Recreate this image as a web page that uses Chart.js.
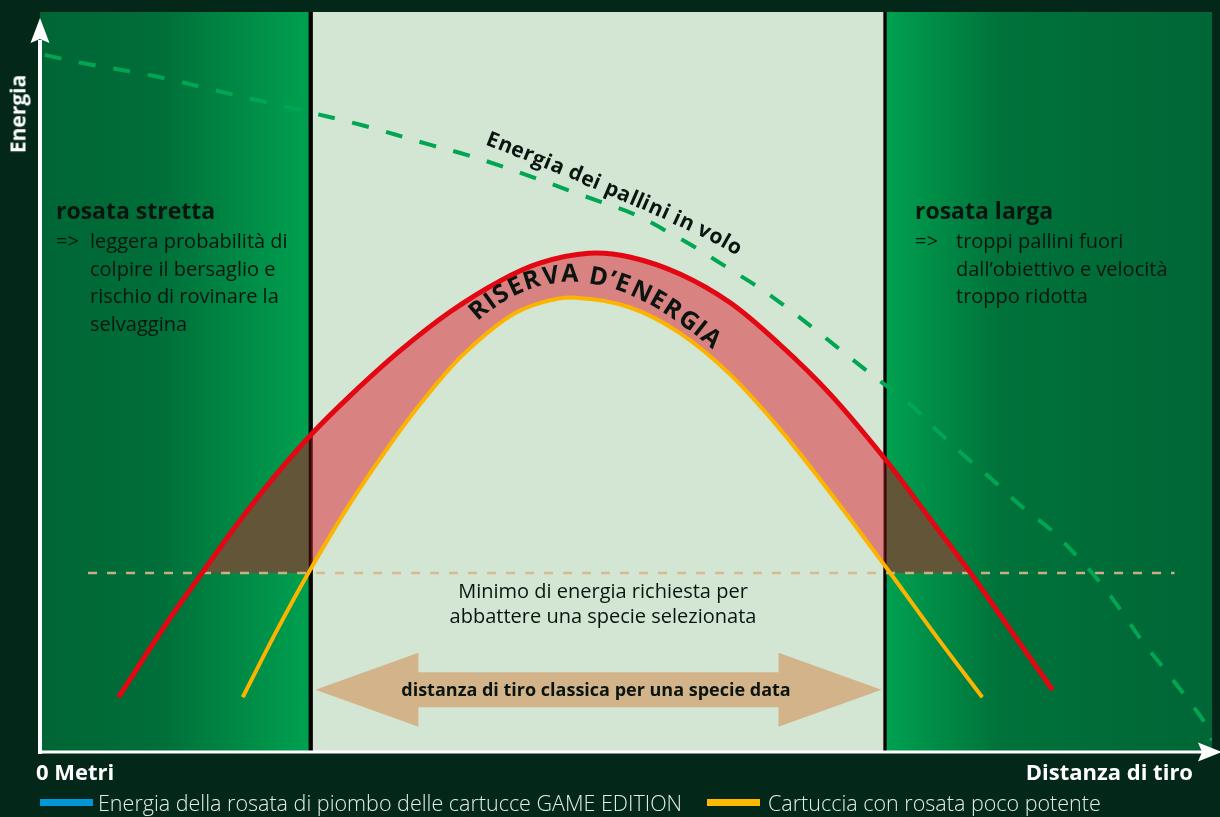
<!DOCTYPE html>
<html>
<head>
<meta charset="utf-8">
<script src="https://cdn.jsdelivr.net/npm/chart.js@4.4.0/dist/chart.umd.min.js"></script>
<style>
html,body{margin:0;padding:0;background:#03281a;}
#wrap{position:relative;width:1220px;height:817px;overflow:hidden;font-family:"Open Sans",sans-serif;}
#c{position:absolute;left:0;top:0;}
.t{position:absolute;white-space:nowrap;line-height:1;}
.sw{position:absolute;}
</style>
</head>
<body>
<div id="wrap">
<canvas id="c" width="1220" height="817"></canvas>
</div>
<script>
// ---------- data (x: relative shooting distance 0-100, y: relative energy 0-100) ----------
const energyX = [0.4, 3.6, 9.6, 15.5, 21.5, 27.5, 33.4, 36.4, 39.3, 42.2, 45.1, 47.9, 50.8, 53.8, 56.1, 58.8, 61.5, 64.1, 66.6, 69.2, 71.7, 74.1, 76.5, 78.9, 81.4, 83.8, 86.2, 88.4, 90.4, 92.2, 94.0, 95.8, 97.7, 99.4, 100];
const energyY = [94.2, 93.1, 91.4, 89.2, 87.0, 84.7, 82.0, 80.7, 79.2, 77.6, 75.9, 74.3, 72.6, 70.1, 68.0, 65.3, 62.6, 59.6, 56.5, 53.2, 50.1, 47.2, 43.5, 40.0, 36.6, 33.1, 30.1, 26.6, 23.0, 19.2, 15.1, 11.5, 7.6, 3.9, 1.6];

const gameX = [6.7, 10.8, 13.7, 16.5, 19.9, 23.2, 26.5, 30.7, 35.0, 39.3, 42.7, 46.8, 50.3, 54.6, 58.9, 63.1, 67.4, 72.1, 75.9, 79.4, 82.8, 86.4];
const gameY = [7.4, 17.4, 23.9, 30.1, 37.0, 43.0, 48.2, 54.2, 59.5, 63.7, 66.1, 67.4, 66.9, 64.6, 60.7, 55.1, 48.4, 39.6, 31.6, 24.2, 16.5, 8.4];

const weakX = [17.3, 20.1, 22.9, 26.5, 30.7, 33.5, 36.1, 39.9, 42.7, 45.7, 50.3, 54.6, 58.9, 63.1, 67.4, 72.4, 76.4, 80.4];
const weakY = [7.4, 16.1, 24.2, 33.7, 43.4, 49.1, 53.7, 58.7, 60.7, 61.4, 60.1, 56.6, 51.0, 43.7, 35.1, 24.5, 15.8, 7.4];

const minEnergyX = [4.1, 96.8];
const minEnergyY = [24.2, 24.2];

const regionSplit = [23.1, 72.1];      // rosata stretta | distanza classica | rosata larga
const classicRangeX = [23.5, 71.8];    // double arrow
const classicRangeY = 8.4;

const legendLabels = ['Energia della rosata di piombo delle cartucce GAME EDITION', 'Cartuccia con rosata poco potente'];
const legendColors = ['#0096d8', '#fbb900'];

// ---------- helpers ----------
const pts = (xs, ys) => xs.map((v, i) => ({x: v, y: ys[i]}));

function bandGradient(chart, inside, outside) {
  const a = chart.chartArea;
  if (!a) return 'rgba(0,0,0,0)';
  const x = chart.scales.x;
  const l = x.getPixelForValue(regionSplit[0]), r = x.getPixelForValue(regionSplit[1]);
  const g = chart.ctx.createLinearGradient(a.left, 0, a.right, 0);
  const w = a.right - a.left;
  const fl = (l - a.left) / w, fr = (r - a.left) / w;
  g.addColorStop(0, outside); g.addColorStop(fl, outside);
  g.addColorStop(fl, inside); g.addColorStop(fr, inside);
  g.addColorStop(fr, outside); g.addColorStop(1, outside);
  return g;
}

const bgPlugin = {
  id: 'bgPlugin',
  beforeDraw(chart) {
    const {ctx, chartArea: a, scales: {x}} = chart;
    const l = x.getPixelForValue(regionSplit[0]), r = x.getPixelForValue(regionSplit[1]);
    const h = a.bottom - a.top;
    ctx.save();
    let g = ctx.createLinearGradient(a.left, 0, l, 0);
    g.addColorStop(0, '#006535'); g.addColorStop(0.45, '#006f39'); g.addColorStop(1, '#00a150');
    ctx.fillStyle = g; ctx.fillRect(a.left, a.top, l - a.left, h);
    ctx.fillStyle = '#d3e6d4'; ctx.fillRect(l, a.top, r - l, h);
    g = ctx.createLinearGradient(r, 0, a.right, 0);
    g.addColorStop(0, '#00a150'); g.addColorStop(0.35, '#00723a'); g.addColorStop(1, '#006636');
    ctx.fillStyle = g; ctx.fillRect(r, a.top, a.right - r, h);
    ctx.fillStyle = '#03281a';
    ctx.fillRect(l - 2, a.top, 4, h);
    ctx.fillRect(r - 1.5, a.top, 3, h);
    ctx.restore();
  },
  beforeDatasetsDraw(chart) {
    const {ctx, chartArea: a, scales: {x, y}} = chart;
    const l = x.getPixelForValue(regionSplit[0]), r = x.getPixelForValue(regionSplit[1]);
    const h = a.bottom - a.top;
    ctx.save();
    ctx.globalCompositeOperation = 'multiply';
    ctx.fillStyle = 'rgb(115,28,28)';
    ctx.fillRect(l - 2, a.top, 4, h);
    ctx.fillRect(r - 1.5, a.top, 3, h);
    ctx.restore();
    // double arrow
    const xl = x.getPixelForValue(classicRangeX[0]), xr = x.getPixelForValue(classicRangeX[1]);
    const yc = y.getPixelForValue(classicRangeY);
    const head = 103, hh = 37, sh = 17.5;
    ctx.save();
    ctx.fillStyle = '#d3b48a';
    ctx.beginPath();
    ctx.moveTo(xl, yc);
    ctx.lineTo(xl + head, yc - hh); ctx.lineTo(xl + head, yc - sh);
    ctx.lineTo(xr - head, yc - sh); ctx.lineTo(xr - head, yc - hh);
    ctx.lineTo(xr, yc);
    ctx.lineTo(xr - head, yc + hh); ctx.lineTo(xr - head, yc + sh);
    ctx.lineTo(xl + head, yc + sh); ctx.lineTo(xl + head, yc + hh);
    ctx.closePath(); ctx.fill();
    ctx.restore();
  },
  afterDraw(chart) {
    const {ctx, chartArea: a} = chart;
    ctx.save();
    ctx.fillStyle = '#ffffff';
    // y axis
    ctx.fillRect(a.left - 2, a.top + 28, 4, a.bottom - a.top - 26);
    ctx.beginPath();
    ctx.moveTo(a.left, a.top + 6);
    ctx.lineTo(a.left + 9.5, a.top + 31);
    ctx.lineTo(a.left, a.top + 27);
    ctx.lineTo(a.left - 9.5, a.top + 31);
    ctx.closePath(); ctx.fill();
    // x axis
    ctx.fillRect(a.left - 2, a.bottom - 1.5, a.right - a.left - 8, 3);
    ctx.beginPath();
    ctx.moveTo(a.right + 10, a.bottom);
    ctx.lineTo(a.right - 14, a.bottom - 9.5);
    ctx.lineTo(a.right - 10, a.bottom);
    ctx.lineTo(a.right - 14, a.bottom + 9.5);
    ctx.closePath(); ctx.fill();
    ctx.restore();
  }
};

new Chart(document.getElementById('c'), {
  type: 'line',
  data: {
    datasets: [
      {
        label: legendLabels[0],
        data: pts(gameX, gameY),
        borderColor: '#e30613', borderWidth: 5,
        backgroundColor: (c) => bandGradient(c.chart, 'rgba(0,0,0,0)', '#635538'),
        fill: {target: {value: minEnergyY[0]}, below: 'rgba(0,0,0,0)'},
        tension: 0.35, pointRadius: 0
      },
      {
        label: legendLabels[1],
        data: pts(weakX, weakY),
        borderColor: '#fcb400', borderWidth: 4,
        backgroundColor: (c) => bandGradient(c.chart, '#d98282', 'rgba(0,0,0,0)'),
        fill: {target: 0},
        tension: 0.35, pointRadius: 0
      },
      {
        label: 'Energia dei pallini in volo',
        data: pts(energyX, energyY),
        borderColor: '#00a652', borderWidth: 4, borderDash: [17, 18],
        fill: false, tension: 0.35, pointRadius: 0
      },
      {
        label: 'Minimo di energia richiesta',
        data: pts(minEnergyX, minEnergyY),
        borderColor: 'rgba(214,182,140,0.92)', borderWidth: 2.5, borderDash: [9, 10],
        fill: false, pointRadius: 0
      }
    ]
  },
  options: {
    responsive: false,
    animation: false,
    layout: {padding: {left: 40, right: 8, top: 12, bottom: 65}},
    scales: {
      x: {type: 'linear', min: 0, max: 100, display: false},
      y: {type: 'linear', min: 0, max: 100, display: false}
    },
    elements: {line: {borderCapStyle: 'butt'}},
    plugins: {
      legend: {display: false},
      tooltip: {enabled: false},
      filler: {drawTime: 'beforeDatasetsDraw'}
    }
  },
  plugins: [bgPlugin]
});

// ---------- text ----------
const wrap = document.getElementById('wrap');
function label(text, x, cy, size, opts = {}) {
  const d = document.createElement('div');
  d.className = 't';
  d.textContent = text;
  d.style.fontSize = size + 'px';
  d.style.fontWeight = opts.weight || 400;
  d.style.color = opts.color || '#0b1510';
  d.style.top = (cy - 0.55 * size) + 'px';
  if (opts.align === 'right') { d.style.right = (1220 - x) + 'px'; }
  else if (opts.align === 'center') { d.style.left = x + 'px'; d.style.transform = 'translateX(-50%)'; }
  else d.style.left = x + 'px';
  if (opts.ls) d.style.letterSpacing = opts.ls + 'px';
  wrap.appendChild(d);
  return d;
}
function swatch(x, y, w, h, color) {
  const s = document.createElement('div');
  s.className = 'sw';
  Object.assign(s.style, {left: x + 'px', top: y + 'px', width: w + 'px', height: h + 'px', background: color});
  wrap.appendChild(s);
}
function bez(p0, p1, p2, t) {
  const u = 1 - t;
  return [u * u * p0[0] + 2 * u * t * p1[0] + t * t * p2[0], u * u * p0[1] + 2 * u * t * p1[1] + t * t * p2[1]];
}
function curveText(str, size, weight, p0, p1, p2, color) {
  const m = document.createElement('canvas').getContext('2d');
  m.font = weight + ' ' + size + 'px "Open Sans"';
  const chars = [...str];
  const ws = chars.map(ch => m.measureText(ch).width);
  const W = ws.reduce((s, v) => s + v, 0);
  const N = 600, P = [], cum = [0];
  for (let i = 0; i <= N; i++) {
    P.push(bez(p0, p1, p2, i / N));
    if (i > 0) cum.push(cum[i - 1] + Math.hypot(P[i][0] - P[i - 1][0], P[i][1] - P[i - 1][1]));
  }
  const L = cum[N];
  const sp = (L - W) / (chars.length - 1);
  let pos = 0;
  chars.forEach((ch, k) => {
    const d = pos + ws[k] / 2;
    let i = 0;
    while (i < N - 1 && cum[i + 1] < d) i++;
    const f = (d - cum[i]) / (cum[i + 1] - cum[i] || 1);
    const px = P[i][0] + (P[i + 1][0] - P[i][0]) * f;
    const py = P[i][1] + (P[i + 1][1] - P[i][1]) * f;
    const ang = Math.atan2(P[i + 1][1] - P[i][1], P[i + 1][0] - P[i][0]);
    const s = document.createElement('span');
    s.className = 't';
    s.textContent = ch;
    Object.assign(s.style, {
      left: px + 'px', top: py + 'px', fontSize: size + 'px', fontWeight: weight, color: color,
      lineHeight: size + 'px', transformOrigin: '0 0',
      transform: 'rotate(' + ang + 'rad) translate(-50%,-88.8%)'
    });
    wrap.appendChild(s);
    pos += ws[k] + sp;
  });
}

// axis titles
const yt = label('Energia', 18, 115, 21, {weight: 700, color: '#ffffff'});
yt.style.left = '18px'; yt.style.top = '115px';
yt.style.transform = 'translate(-50%,-55%) rotate(-90deg)';
yt.style.transformOrigin = '50% 50%';
label('0 Metri', 36, 772, 22, {weight: 700, color: '#ffffff'});
label('Distanza di tiro', 1193, 772, 22, {weight: 700, color: '#ffffff', align: 'right'});

// legend
swatch(40, 799, 53, 7, legendColors[0]);
label(legendLabels[0], 98, 804, 21.5, {weight: 300, color: '#e4ece6'});
swatch(707, 799, 53, 7, legendColors[1]);
label(legendLabels[1], 768, 804, 21.5, {weight: 300, color: '#e4ece6'});

// left region
label('rosata stretta', 56, 212, 23, {weight: 700});
label('=>', 56, 242, 20);
['leggera probabilità di', 'colpire il bersaglio e', 'rischio di rovinare la', 'selvaggina']
  .forEach((s, i) => label(s, 90, 242 + i * 27.7, 20));
// right region
label('rosata larga', 915, 212, 23, {weight: 700});
label('=>', 915, 242, 20);
['troppi pallini fuori', 'dall’obiettivo e velocità', 'troppo ridotta']
  .forEach((s, i) => label(s, 956, 242 + i * 27.7, 20));
// minimum energy note
label('Minimo di energia richiesta per', 603, 592, 20, {align: 'center'});
label('abbattere una specie selezionata', 603, 617, 20, {align: 'center'});
// arrow text
label('distanza di tiro classica per una specie data', 596, 690, 18, {weight: 700, align: 'center'});

// curved labels
curveText('Energia dei pallini in volo', 21, 700, [485, 145], [692, 227], [736, 257], '#0b1510');
curveText('RISERVA D’ENERGIA', 25, 700, [478, 322], [576, 230], [713, 350], '#0b1510');
</script>
</body>
</html>
